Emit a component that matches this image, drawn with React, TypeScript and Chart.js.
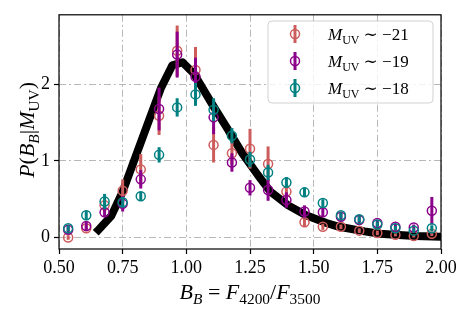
import React, { useEffect, useRef } from 'react';
import { Chart, registerables } from 'chart.js';
Chart.register(...registerables);

const FONT = '"Liberation Serif", "DejaVu Serif", serif';

const binCenters = [0.536, 0.607, 0.679, 0.75, 0.821, 0.893, 0.964, 1.036, 1.107, 1.179, 1.25, 1.321, 1.393, 1.464, 1.536, 1.607, 1.679, 1.75, 1.821, 1.893, 1.964];

const red21 = [0.0, 0.12, 0.42, 0.61, 0.89, 1.59, 2.44, 2.19, 1.21, 1.1, 1.16, 0.96, 0.6, 0.2, 0.14, 0.14, 0.09, 0.06, 0.035, 0.02, 0.05];
const red21Err = [0.03, 0.04, 0.08, 0.15, 0.2, 0.25, 0.33, 0.3, 0.23, 0.15, 0.26, 0.23, 0.1, 0.05, 0.04, 0.03, 0.03, 0.03, 0.02, 0.02, 0.03];

const purple19 = [0.1, 0.15, 0.33, 0.44, 0.76, 1.68, 2.39, 2.1, 1.57, 0.98, 0.65, 0.62, 0.49, 0.34, 0.33, 0.27, 0.23, 0.19, 0.14, 0.13, 0.35];
const purple19Err = [0.05, 0.06, 0.06, 0.1, 0.12, 0.28, 0.3, 0.25, 0.22, 0.12, 0.1, 0.14, 0.1, 0.08, 0.06, 0.06, 0.05, 0.04, 0.04, 0.04, 0.18];

const teal18 = [0.12, 0.29, 0.47, 0.46, 0.54, 1.08, 1.7, 1.87, 1.67, 1.33, 1.02, 0.85, 0.72, 0.59, 0.45, 0.29, 0.24, 0.17, 0.12, 0.09, 0.12];
const teal18Err = [0.04, 0.06, 0.1, 0.07, 0.06, 0.1, 0.12, 0.15, 0.15, 0.1, 0.1, 0.1, 0.07, 0.06, 0.05, 0.04, 0.04, 0.04, 0.03, 0.03, 0.04];

const modelX = [0.655, 0.705, 0.75, 0.8, 0.85, 0.9, 0.945, 0.985, 1.03, 1.1, 1.16, 1.22, 1.28, 1.33, 1.4, 1.47, 1.55, 1.6, 1.7, 1.76, 1.85, 1.9, 2.0];
const modelY = [0.1, 0.28, 0.6, 1.05, 1.5, 1.95, 2.25, 2.29, 2.14, 1.75, 1.43, 1.1, 0.82, 0.6, 0.42, 0.29, 0.19, 0.14, 0.08, 0.05, 0.03, 0.02, 0.01];

const xTicks = [0.5, 0.75, 1.0, 1.25, 1.5, 1.75, 2.0];
const yTicks = [0, 1, 2];
const legendLabels = ['\u221221', '\u221219', '\u221218'];

const RED = '#cd5c5c';
const PURPLE = '#8b008b';
const TEAL = '#008080';

type Seg = { t: string; it?: boolean; sub?: boolean };

function segFont(s: Seg, size: number) {
  const sz = s.sub ? size * 0.7 : size;
  return `${s.it ? 'italic ' : ''}${sz}px ${FONT}`;
}
function measureRich(ctx: CanvasRenderingContext2D, segs: Seg[], size: number) {
  let w = 0;
  for (const s of segs) {
    ctx.font = segFont(s, size);
    w += ctx.measureText(s.t).width;
  }
  return w;
}
function drawRich(ctx: CanvasRenderingContext2D, segs: Seg[], x: number, y: number, size: number, center: boolean) {
  const w = measureRich(ctx, segs, size);
  let cx = center ? x - w / 2 : x;
  ctx.textAlign = 'left';
  ctx.textBaseline = 'alphabetic';
  ctx.fillStyle = '#000';
  for (const s of segs) {
    ctx.font = segFont(s, size);
    ctx.fillText(s.t, cx, s.sub ? y + size * 0.22 : y);
    cx += ctx.measureText(s.t).width;
  }
}

const errorBarPlugin = {
  id: 'errbars',
  beforeDatasetDraw(chart: any, args: any) {
    const ds = chart.data.datasets[args.index];
    if (!ds.errs) return;
    const { ctx, scales } = chart;
    const x = scales.x, y = scales.y;
    ctx.save();
    ctx.strokeStyle = ds.borderColor;
    ctx.lineWidth = 3;
    ds.data.forEach((p: any, i: number) => {
      const e = ds.errs[i];
      const px = x.getPixelForValue(p.x);
      ctx.beginPath();
      ctx.moveTo(px, y.getPixelForValue(p.y - e));
      ctx.lineTo(px, y.getPixelForValue(p.y + e));
      ctx.stroke();
    });
    ctx.restore();
  },
};

const decorPlugin = {
  id: 'decor',
  afterDraw(chart: any) {
    const { ctx, chartArea: a } = chart;
    ctx.save();
    // frame
    ctx.strokeStyle = '#000';
    ctx.lineWidth = 1.2;
    ctx.strokeRect(a.left, a.top, a.right - a.left, a.bottom - a.top);

    // x title
    drawRich(ctx, [
      { t: 'B', it: true }, { t: 'B', it: true, sub: true }, { t: ' = ' },
      { t: 'F', it: true }, { t: '4200', sub: true }, { t: '/' },
      { t: 'F', it: true }, { t: '3500', sub: true },
    ], (a.left + a.right) / 2, 299, 22, true);

    // y title
    ctx.save();
    ctx.translate(34, (a.top + a.bottom) / 2 - 2);
    ctx.rotate(-Math.PI / 2);
    drawRich(ctx, [
      { t: 'P', it: true }, { t: '(' }, { t: 'B', it: true }, { t: 'B', it: true, sub: true },
      { t: '|' }, { t: 'M', it: true }, { t: 'UV', sub: true }, { t: ')' },
    ], 0, 0, 22, true);
    ctx.restore();

    // legend
    const lx = 268, ly = 21, lw = 165, lh = 82, r = 4;
    ctx.beginPath();
    ctx.moveTo(lx + r, ly);
    ctx.arcTo(lx + lw, ly, lx + lw, ly + lh, r);
    ctx.arcTo(lx + lw, ly + lh, lx, ly + lh, r);
    ctx.arcTo(lx, ly + lh, lx, ly, r);
    ctx.arcTo(lx, ly, lx + lw, ly, r);
    ctx.closePath();
    ctx.fillStyle = 'rgba(255,255,255,0.8)';
    ctx.fill();
    ctx.strokeStyle = 'rgba(204,204,204,0.9)';
    ctx.lineWidth = 1;
    ctx.stroke();

    const colors = [RED, PURPLE, TEAL];
    legendLabels.forEach((lab, i) => {
      const cy = 34 + i * 27;
      ctx.strokeStyle = colors[i];
      ctx.lineWidth = 3;
      ctx.beginPath();
      ctx.moveTo(295, cy - 9);
      ctx.lineTo(295, cy + 9);
      ctx.stroke();
      ctx.lineWidth = 1.5;
      ctx.beginPath();
      ctx.arc(295, cy, 4.5, 0, Math.PI * 2);
      ctx.stroke();
      drawRich(ctx, [
        { t: 'M', it: true }, { t: 'UV', sub: true }, { t: ' \u223c ' + lab },
      ], 328, cy + 6, 17, false);
    });
    ctx.restore();
  },
};

export default function App() {
  const ref = useRef<HTMLCanvasElement>(null);
  useEffect(() => {
    if (!ref.current) return;
    const mk = (vals: number[]) => vals.map((v, i) => ({ x: binCenters[i], y: v }));
    const scatterDs = (vals: number[], errs: number[], color: string, order: number) => ({
      type: 'scatter' as const,
      data: mk(vals),
      errs,
      borderColor: color,
      backgroundColor: 'rgba(0,0,0,0)',
      pointRadius: 4.5,
      pointBorderWidth: 1.5,
      pointBackgroundColor: 'rgba(0,0,0,0)',
      pointBorderColor: color,
      showLine: false,
      order,
    });
    const chart = new Chart(ref.current, {
      type: 'scatter',
      data: {
        datasets: [
          {
            type: 'line' as const,
            data: modelX.map((x, i) => ({ x, y: modelY[i] })),
            borderColor: '#000',
            borderWidth: 8,
            pointRadius: 0,
            tension: 0,
            borderCapStyle: 'square',
            borderJoinStyle: 'round',
            fill: false,
            order: 4,
          } as any,
          scatterDs(red21, red21Err, RED, 3) as any,
          scatterDs(purple19, purple19Err, PURPLE, 2) as any,
          scatterDs(teal18, teal18Err, TEAL, 1) as any,
        ],
      },
      options: {
        responsive: false,
        animation: false,
        layout: { padding: { top: 11, right: 28, left: 0, bottom: 0 } },
        plugins: { legend: { display: false }, tooltip: { enabled: false } },
        scales: {
          x: {
            type: 'linear',
            min: 0.5,
            max: 2.0,
            afterFit: (s: any) => { s.height = 66; },
            afterBuildTicks: (s: any) => { s.ticks = xTicks.map((v) => ({ value: v })); },
            ticks: {
              callback: (v: any) => Number(v).toFixed(2),
              font: { family: FONT, size: 18 },
              color: '#000',
              padding: 3,
              maxRotation: 0,
              autoSkip: false,
            },
            grid: {
              color: '#b8b8b8',
              lineWidth: 1,
              drawTicks: true,
              tickLength: 5,
              tickColor: '#000',
              tickWidth: 1.2,
              tickBorderDash: [],
            } as any,
            border: { display: false, dash: [7, 3, 2, 3] },
          },
          y: {
            type: 'linear',
            min: -0.15,
            max: 2.91,
            afterFit: (s: any) => { s.width = 59; },
            afterBuildTicks: (s: any) => { s.ticks = yTicks.map((v) => ({ value: v })); },
            ticks: {
              callback: (v: any) => String(v),
              font: { family: FONT, size: 18 },
              color: '#000',
              padding: 4,
              autoSkip: false,
            },
            grid: {
              color: '#b8b8b8',
              lineWidth: 1,
              drawTicks: true,
              tickLength: 5,
              tickColor: '#000',
              tickWidth: 1.2,
              tickBorderDash: [],
            } as any,
            border: { display: false, dash: [7, 3, 2, 3] },
          },
        },
      },
      plugins: [errorBarPlugin, decorPlugin],
    });
    return () => chart.destroy();
  }, []);
  return (
    <div style={{ position: 'fixed', left: 0, top: 0, width: 469, height: 315, background: '#fff' }}>
      <canvas ref={ref} width={469} height={315} />
    </div>
  );
}
